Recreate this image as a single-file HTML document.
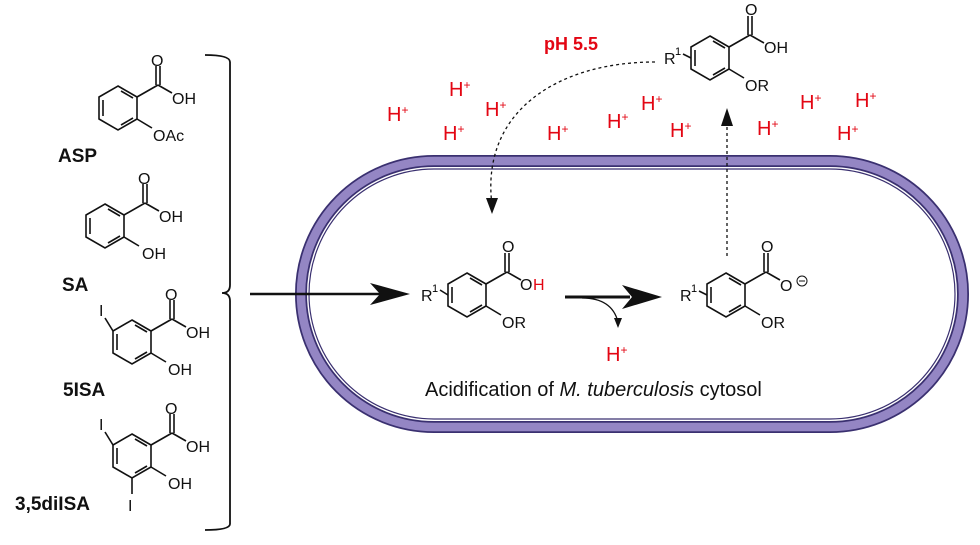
<!DOCTYPE html>
<html><head><meta charset="utf-8"><style>
body{margin:0;background:#fff}
svg{display:block}
text{font-family:"Liberation Sans",Arial,sans-serif}
.r{fill:#e30613;font-size:20px}
.m{font-size:16px;fill:#111}
.l{font-size:19px;font-weight:bold;fill:#111}
</style></head><body>
<svg width="980" height="545" viewBox="0 0 980 545" xmlns="http://www.w3.org/2000/svg" font-family="Liberation Sans, Arial, sans-serif">
<defs>
<g id="mol" fill="none" stroke="#111" stroke-width="1.6">
<polygon points="0,-22 19,-11 19,11 0,22 -19,11 -19,-11"/>
<line x1="-15" y1="-8" x2="-15" y2="8"/>
<line x1="3" y1="-17" x2="15" y2="-10"/>
<line x1="3" y1="17" x2="15" y2="10"/>
<line x1="19" y1="-11" x2="40" y2="-23"/>
<line x1="38" y1="-23" x2="38" y2="-42"/>
<line x1="42" y1="-23" x2="42" y2="-42"/>
<line x1="40" y1="-23" x2="54" y2="-15"/>
<line x1="19" y1="11" x2="34" y2="20"/>
</g>
</defs>

<use href="#mol" x="118" y="108"/>
<text class="m" x="151" y="66">O</text><text class="m" x="172" y="104">OH</text><text class="m" x="153" y="141">OAc</text>
<text class="l" x="58" y="162">ASP</text>

<use href="#mol" x="105" y="226"/>
<text class="m" x="138" y="184">O</text><text class="m" x="159" y="222">OH</text><text class="m" x="142" y="259">OH</text>
<text class="l" x="62" y="291">SA</text>

<use href="#mol" x="132" y="342"/>
<line x1="113" y1="331" x2="105" y2="318" stroke="#111" stroke-width="1.6"/>
<text class="m" x="99" y="316">I</text>
<text class="m" x="165" y="300">O</text><text class="m" x="186" y="338">OH</text><text class="m" x="168" y="375">OH</text>
<text class="l" x="63" y="396">5ISA</text>

<use href="#mol" x="132" y="456"/>
<line x1="113" y1="445" x2="105" y2="432" stroke="#111" stroke-width="1.6"/>
<line x1="132" y1="478" x2="132" y2="494" stroke="#111" stroke-width="1.6"/>
<text class="m" x="99" y="430">I</text><text class="m" x="128" y="511">I</text>
<text class="m" x="165" y="414">O</text><text class="m" x="186" y="452">OH</text><text class="m" x="168" y="489">OH</text>
<text class="l" x="15" y="510">3,5diISA</text>

<path d="M205,55 Q230,55 230,62 L230,285 Q230,293 222,293 Q230,293 230,301 L230,524 Q230,530 205,530" fill="none" stroke="#111" stroke-width="1.8"/>

<rect x="301" y="161" width="662" height="266" rx="133" fill="none" stroke="#3a3070" stroke-width="12"/>
<rect x="301" y="161" width="662" height="266" rx="133" fill="none" stroke="#9486c4" stroke-width="8.5"/>
<rect x="309" y="169" width="646" height="250" rx="125" fill="none" stroke="#3a3070" stroke-width="1.2"/>

<line x1="250" y1="294" x2="380" y2="294" stroke="#111" stroke-width="2.5"/>
<polygon points="370,283 410,294 370,305 380,294" fill="#111"/>

<use href="#mol" x="467" y="295"/>
<line x1="448" y1="295" x2="440" y2="290" stroke="#111" stroke-width="1.6"/>
<text class="m" x="421" y="301">R</text><text x="432" y="292" style="font-size:11px">1</text>
<text class="m" x="502" y="252">O</text><text class="m" x="520" y="290">O</text><text class="m" x="533" y="290" style="fill:#e30613">H</text>
<text class="m" x="502" y="328">OR</text>

<line x1="565" y1="297" x2="630" y2="297" stroke="#111" stroke-width="3"/>
<polygon points="622,285 662,297 622,309 632,297" fill="#111"/>
<path d="M582,298 Q612,298 618,322" fill="none" stroke="#111" stroke-width="1.3"/>
<polygon points="614,318 622,318 618,328" fill="#111"/>
<text class="r" x="606" y="361">H<tspan dy="-7" style="font-size:12px">+</tspan></text>

<use href="#mol" x="726" y="295"/>
<line x1="707" y1="295" x2="699" y2="291" stroke="#111" stroke-width="1.6"/>
<text class="m" x="680" y="301">R</text><text x="691" y="292" style="font-size:11px">1</text>
<text class="m" x="761" y="252">O</text><text class="m" x="780" y="291">O</text>
<circle cx="802" cy="281" r="5" fill="none" stroke="#111" stroke-width="1"/><line x1="799" y1="281" x2="805" y2="281" stroke="#111"/>
<text class="m" x="761" y="328">OR</text>

<use href="#mol" x="710" y="58"/>
<line x1="691" y1="58" x2="683" y2="54" stroke="#111" stroke-width="1.6"/>
<text class="m" x="664" y="64">R</text><text x="675" y="55" style="font-size:11px">1</text>
<text class="m" x="745" y="15">O</text><text class="m" x="764" y="53">OH</text>
<text class="m" x="745" y="91">OR</text>

<path d="M655,62 C560,62 480,110 492,205" fill="none" stroke="#111" stroke-width="1.3" stroke-dasharray="3,3"/>
<polygon points="486,198 498,198 492,214" fill="#111"/>
<line x1="727" y1="256" x2="727" y2="124" stroke="#111" stroke-width="1.3" stroke-dasharray="3,3"/>
<polygon points="721,126 733,126 727,108" fill="#111"/>

<text x="544" y="50" style="fill:#e30613;font-size:18px;font-weight:bold">pH 5.5</text>
<text x="387" y="121" class="r">H<tspan dy="-7" style="font-size:12px">+</tspan></text>
<text x="449" y="96" class="r">H<tspan dy="-7" style="font-size:12px">+</tspan></text>
<text x="485" y="116" class="r">H<tspan dy="-7" style="font-size:12px">+</tspan></text>
<text x="443" y="140" class="r">H<tspan dy="-7" style="font-size:12px">+</tspan></text>
<text x="547" y="140" class="r">H<tspan dy="-7" style="font-size:12px">+</tspan></text>
<text x="607" y="128" class="r">H<tspan dy="-7" style="font-size:12px">+</tspan></text>
<text x="641" y="110" class="r">H<tspan dy="-7" style="font-size:12px">+</tspan></text>
<text x="670" y="137" class="r">H<tspan dy="-7" style="font-size:12px">+</tspan></text>
<text x="757" y="135" class="r">H<tspan dy="-7" style="font-size:12px">+</tspan></text>
<text x="800" y="109" class="r">H<tspan dy="-7" style="font-size:12px">+</tspan></text>
<text x="855" y="107" class="r">H<tspan dy="-7" style="font-size:12px">+</tspan></text>
<text x="837" y="140" class="r">H<tspan dy="-7" style="font-size:12px">+</tspan></text>

<text x="425" y="396" style="font-size:20px;fill:#111">Acidification of <tspan font-style="italic">M. tuberculosis</tspan> cytosol</text>
</svg>
</body></html>
